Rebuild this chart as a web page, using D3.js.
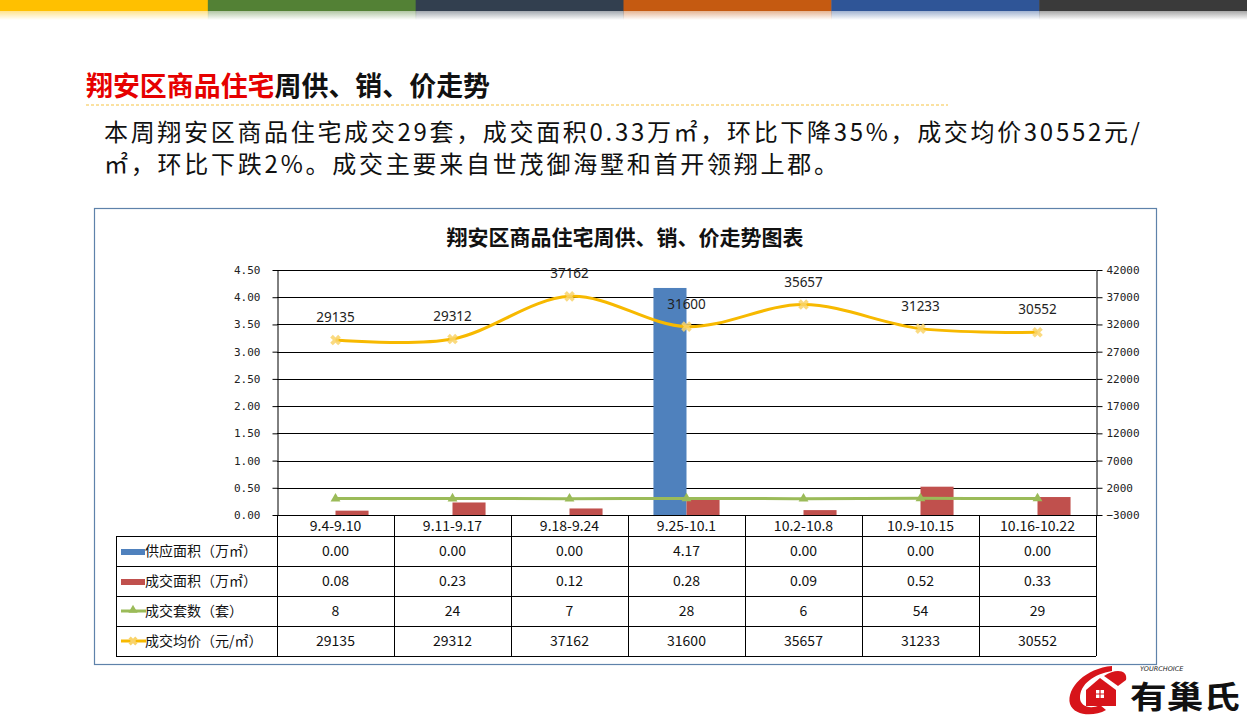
<!DOCTYPE html>
<html><head><meta charset="utf-8">
<script src="https://cdn.jsdelivr.net/npm/d3@7"></script>
<style>
html,body{margin:0;padding:0;background:#fff;}
svg{display:block;}
</style></head>
<body>
<svg id="c" width="1247" height="718"></svg>
<script>
const categories = ["9.4-9.10","9.11-9.17","9.18-9.24","9.25-10.1","10.2-10.8","10.9-10.15","10.16-10.22"];
const supplyArea = [0.00,0.00,0.00,4.17,0.00,0.00,0.00];
const soldArea = [0.08,0.23,0.12,0.28,0.09,0.52,0.33];
const soldUnits = [8,24,7,28,6,54,29];
const avgPrice = [29135,29312,37162,31600,35657,31233,30552];
const leftTicks = [0,0.5,1,1.5,2,2.5,3,3.5,4,4.5];
const rightTicks = [-3000,2000,7000,12000,17000,22000,27000,32000,37000,42000];
const seriesNames = ["供应面积（万㎡）","成交面积（万㎡）","成交套数（套）","成交均价（元/㎡）"];
const stripeColors = ["#FFC000","#538135","#323F4F","#C55A11","#2F5597","#3A3A3A"];

const svg = d3.select("#c");
const defs = svg.append("defs");

// top stripes
const sw = 1247/6;
stripeColors.forEach((c,i)=>{
  const g = defs.append("linearGradient").attr("id","fade"+i).attr("x1",0).attr("y1",0).attr("x2",0).attr("y2",1);
  g.append("stop").attr("offset","0").attr("stop-color",c).attr("stop-opacity",0.45);
  g.append("stop").attr("offset","1").attr("stop-color",c).attr("stop-opacity",0);
  svg.append("rect").attr("x",i*sw).attr("y",0).attr("width",sw+0.5).attr("height",11).attr("fill",c);
  svg.append("rect").attr("x",i*sw).attr("y",11).attr("width",sw+0.5).attr("height",9).attr("fill","url(#fade"+i+")");
});

// main heading
const head = svg.append("text").attr("x",86).attr("y",96)
  .attr("font-family","'Noto Sans CJK SC'").attr("font-weight","bold").attr("font-size",27).attr("textLength",404).attr("lengthAdjust","spacingAndGlyphs");
head.append("tspan").attr("fill","#E60000").text("翔安区商品住宅");
head.append("tspan").attr("fill","#111").text("周供、销、价走势");
svg.append("line").attr("x1",86).attr("x2",948).attr("y1",105).attr("y2",105)
  .attr("stroke","#F5C342").attr("stroke-width",1).attr("stroke-dasharray","3,2");

svg.append("text").attr("x",104).attr("y",141).attr("font-family","'Noto Sans CJK SC'").attr("font-size",24).attr("fill","#111")
  .attr("textLength",1036).attr("lengthAdjust","spacing")
  .text("本周翔安区商品住宅成交29套，成交面积0.33万㎡，环比下降35%，成交均价30552元/");
svg.append("text").attr("x",104).attr("y",173).attr("font-family","'Noto Sans CJK SC'").attr("font-size",24).attr("fill","#111")
  .attr("textLength",734).attr("lengthAdjust","spacing")
  .text("㎡，环比下跌2%。成交主要来自世茂御海墅和首开领翔上郡。");

// chart frame
svg.append("rect").attr("x",94.5).attr("y",208.5).attr("width",1062).attr("height",456)
  .attr("fill","#fff").attr("stroke","#5E82AA").attr("stroke-width",1.2);
svg.append("text").attr("x",625).attr("y",245).attr("text-anchor","middle")
  .attr("font-family","'Noto Sans CJK SC'").attr("font-weight","bold").attr("font-size",21).attr("fill","#111")
  .text("翔安区商品住宅周供、销、价走势图表");

const L = 277, R = 1096, T = 270, B = 515;
const x = d3.scaleBand().domain(categories).range([L,R]).paddingInner(0).paddingOuter(0);
const xi = d3.scaleBand().domain(["supply","sold"]).range([0,x.bandwidth()]).paddingInner(0).paddingOuter(0.77);
const yL = d3.scaleLinear().domain([0,4.5]).range([B,T]);
const yR = d3.scaleLinear().domain([-3000,42000]).range([B,T]);

// gridlines
svg.append("g").selectAll("line").data(leftTicks.slice(1)).join("line")
  .attr("x1",L).attr("x2",R).attr("y1",d=>Math.round(yL(d))+0.5).attr("y2",d=>Math.round(yL(d))+0.5)
  .attr("stroke","#000").attr("stroke-width",1);

// bars
const gb = svg.append("g");
gb.selectAll(".s").data(supplyArea).join("rect")
  .attr("x",(d,i)=>x(categories[i])+xi("supply")).attr("width",xi.bandwidth())
  .attr("y",d=>yL(d)).attr("height",d=>B-yL(d)).attr("fill","#4F81BD");
gb.selectAll(".r").data(soldArea).join("rect")
  .attr("x",(d,i)=>x(categories[i])+xi("sold")).attr("width",xi.bandwidth())
  .attr("y",d=>yL(d)).attr("height",d=>B-yL(d)).attr("fill","#C0504D");

// axes
const axL = d3.axisLeft(yL).tickValues(leftTicks).tickFormat(d3.format(".2f")).tickSize(5).tickSizeOuter(0);
const gL = svg.append("g").attr("transform",`translate(${L+0.5},0)`).call(axL);
const axR = d3.axisRight(yR).tickValues(rightTicks).tickFormat(d3.format("d")).tickSize(6).tickSizeOuter(0);
const gR = svg.append("g").attr("transform",`translate(${R+0.5},0)`).call(axR);
[gL,gR].forEach(g=>{
  g.selectAll("path,line").attr("stroke","#000");
  g.selectAll("text").attr("font-family","'DejaVu Sans Mono',monospace").attr("font-size",11).attr("fill","#222");
});
gL.selectAll("text").attr("x",-17);
gR.selectAll("text").attr("x",10);
svg.append("line").attr("x1",L).attr("x2",R+6).attr("y1",B+0.5).attr("y2",B+0.5).attr("stroke","#000");

// lines
const cx = (d,i)=>x(categories[i])+x.bandwidth()/2;
svg.append("path").datum(soldUnits)
  .attr("d",d3.line().x(cx).y(d=>yR(d)).curve(d3.curveCatmullRom.alpha(0)))
  .attr("fill","none").attr("stroke","#9BBB59").attr("stroke-width",3);
svg.append("g").selectAll("path").data(soldUnits).join("path")
  .attr("transform",(d,i)=>`translate(${cx(d,i)},${yR(d)})`)
  .attr("d",d3.symbol(d3.symbolTriangle,42)).attr("fill","#9BBB59");

svg.append("path").datum(avgPrice)
  .attr("d",d3.line().x(cx).y(d=>yR(d)).curve(d3.curveCatmullRom.alpha(0)))
  .attr("fill","none").attr("stroke","#F7B900").attr("stroke-width",3);
svg.append("g").selectAll("path").data(avgPrice).join("path")
  .attr("transform",(d,i)=>`translate(${cx(d,i)},${yR(d)}) rotate(45)`)
  .attr("d",d3.symbol(d3.symbolCross,70)).attr("fill","#F9D36A").attr("opacity",0.85);
svg.append("g").selectAll("text").data(avgPrice).join("text")
  .attr("x",cx).attr("y",d=>yR(d)-18).attr("text-anchor","middle")
  .attr("font-family","'Noto Sans',sans-serif").attr("font-size",13.5).attr("fill","#222")
  .text(d=>d);

// data table
const rowTop = 536, rowH = 30, TL = 116;
const tg = svg.append("g");
function ln(x1,y1,x2,y2){tg.append("line").attr("x1",x1).attr("y1",y1).attr("x2",x2).attr("y2",y2).attr("stroke","#000").attr("stroke-width",1);}
x.domain().forEach(c=>ln(x(c)+0.5,B,x(c)+0.5,rowTop+4*rowH));
ln(R+0.5,B,R+0.5,rowTop+4*rowH);
ln(TL+0.5,rowTop,TL+0.5,rowTop+4*rowH);
for(let r=0;r<=4;r++) ln(TL,rowTop+r*rowH+0.5,R,rowTop+r*rowH+0.5);
tg.selectAll(".h").data(categories).join("text")
  .attr("x",d=>x(d)+x.bandwidth()/2).attr("y",531).attr("text-anchor","middle")
  .attr("font-family","'Noto Sans CJK SC'").attr("font-size",14).attr("fill","#111").text(d=>d);
const rows = [supplyArea.map(d=>d3.format(".2f")(d)), soldArea.map(d=>d3.format(".2f")(d)), soldUnits.map(String), avgPrice.map(String)];
rows.forEach((row,r)=>{
  tg.selectAll(".v"+r).data(row).join("text")
    .attr("x",(d,i)=>x(categories[i])+x.bandwidth()/2).attr("y",rowTop+r*rowH+20).attr("text-anchor","middle")
    .attr("font-family","'Noto Sans CJK SC'").attr("font-size",14).attr("fill","#111").text(d=>d);
  tg.append("text").attr("x",145).attr("y",rowTop+r*rowH+20)
    .attr("font-family","'Noto Sans CJK SC'").attr("font-size",14).attr("fill","#111").text(seriesNames[r]);
});
tg.append("rect").attr("x",121).attr("y",549).attr("width",24).attr("height",6).attr("fill","#4F81BD");
tg.append("rect").attr("x",121).attr("y",579).attr("width",24).attr("height",6).attr("fill","#C0504D");
tg.append("line").attr("x1",121).attr("x2",146).attr("y1",611).attr("y2",611).attr("stroke","#9BBB59").attr("stroke-width",3);
tg.append("path").attr("transform","translate(133,610)").attr("d",d3.symbol(d3.symbolTriangle,36)).attr("fill","#9BBB59");
tg.append("line").attr("x1",121).attr("x2",146).attr("y1",641).attr("y2",641).attr("stroke","#F7B900").attr("stroke-width",3);
tg.append("path").attr("transform","translate(133,641) rotate(45)").attr("d",d3.symbol(d3.symbolCross,50)).attr("fill","#F9D36A");

// logo
const lg = svg.append("g");
lg.append("path").attr("d","M1112,666 C1086,668 1066,688 1070,704 C1074,716 1094,717 1106,710 L1100,705 C1090,710 1080,706 1080,698 C1080,684 1094,674 1112,671 Z").attr("fill","#D7141A");
lg.append("path").attr("d","M1086,690 L1100,678 L1116,690 L1116,706 L1086,706 Z").attr("fill","#D7141A");
lg.append("path").attr("d","M1104,676 C1116,668 1128,670 1126,680 L1118,686 Z").attr("fill","#D7141A");
lg.append("rect").attr("x",1096).attr("y",690).attr("width",8).attr("height",8).attr("fill","#fff");
lg.append("path").attr("d","M1096,694 H1104 M1100,690 V698").attr("stroke","#D7141A").attr("stroke-width",1.2);
lg.append("text").attr("x",1140).attr("y",671).attr("font-family","'DejaVu Sans'").attr("font-style","italic").attr("font-size",6.5).attr("fill","#222").text("YOURCHOICE");
lg.append("text").attr("x",1130).attr("y",708).attr("font-family","'Noto Sans CJK SC'").attr("font-weight","bold").attr("font-size",31).attr("fill","#111")
  .attr("textLength",110).attr("lengthAdjust","spacingAndGlyphs").text("有巢氏");
</script>
</body></html>
